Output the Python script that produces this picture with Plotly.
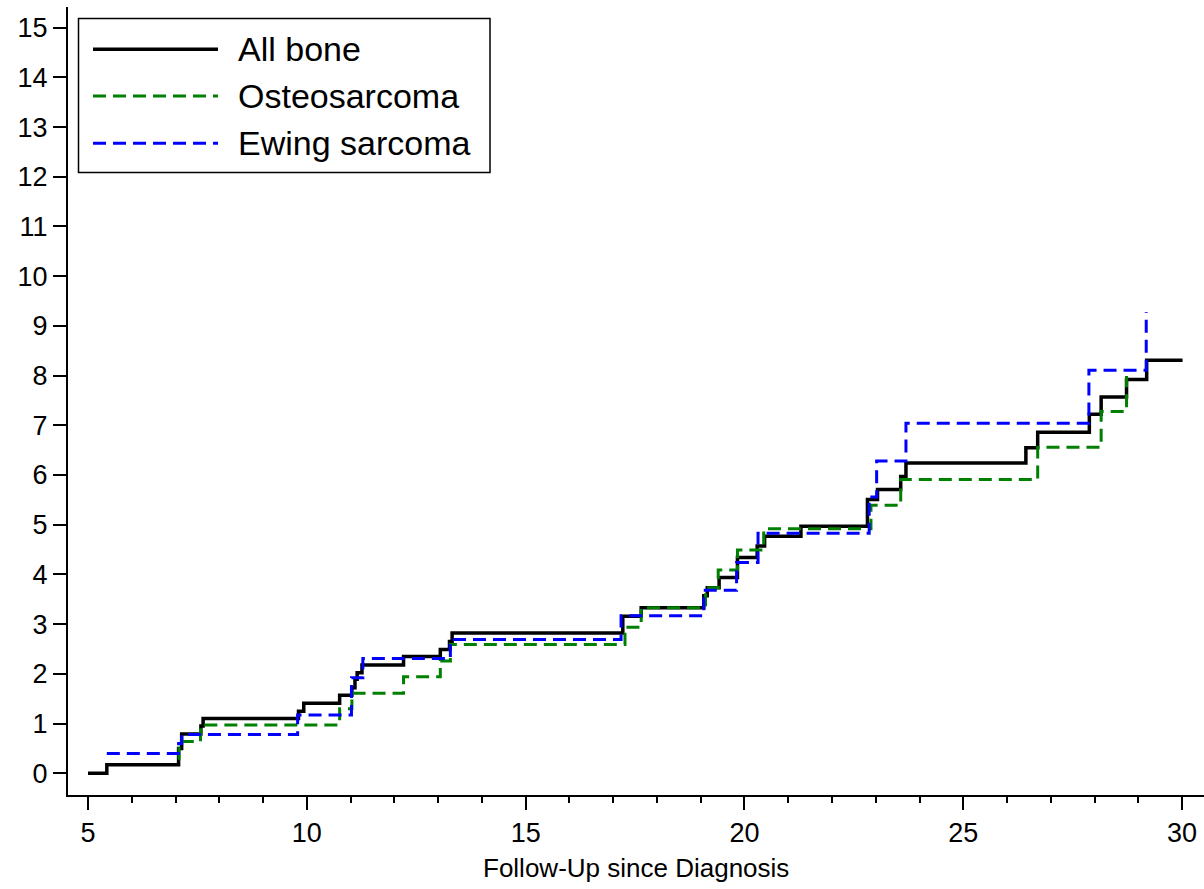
import plotly.graph_objects as go

# ---- data (time since diagnosis, cumulative incidence) ----
all_bone_x = [5.00, 5.43, 7.07, 7.14, 7.58, 7.63, 9.81, 9.93, 10.75, 11.03, 11.10, 11.15, 11.26,
              12.21, 13.05, 13.26, 13.32, 17.22, 17.64, 19.07, 19.15, 19.42, 19.84, 20.29, 20.46,
              21.29, 22.81, 23.04, 23.57, 23.69, 26.43, 26.70, 27.88, 28.15, 28.73, 29.19, 30.01]
all_bone_y = [0.00, 0.17, 0.50, 0.79, 0.95, 1.10, 1.25, 1.41, 1.57, 1.72, 1.89, 2.02, 2.18,
              2.35, 2.49, 2.65, 2.82, 3.16, 3.33, 3.57, 3.73, 3.94, 4.34, 4.57, 4.77,
              4.97, 5.51, 5.71, 5.97, 6.24, 6.55, 6.86, 7.22, 7.57, 7.92, 8.31, 8.31]

osteo_x = [7.06, 7.08, 7.57, 10.75, 11.03, 12.21, 13.05, 13.28, 17.27, 17.64, 19.11, 19.40,
           19.84, 20.44, 22.89, 23.57, 26.70, 28.15, 28.73]
osteo_y = [0.29, 0.64, 0.97, 1.30, 1.61, 1.94, 2.26, 2.59, 2.94, 3.33, 3.73, 4.09,
           4.49, 4.92, 5.39, 5.91, 6.56, 7.28, 7.99]

ewing_x = [5.43, 7.07, 7.14, 9.79, 11.02, 11.28, 13.28, 17.18, 19.07, 19.82, 20.31, 22.85,
           23.02, 23.69, 27.87, 29.18]
ewing_y = [0.40, 0.60, 0.78, 1.17, 1.92, 2.31, 2.69, 3.17, 3.68, 4.24, 4.83, 5.56,
           6.28, 7.04, 8.11, 9.28]

series_names = ["All bone", "Osteosarcoma", "Ewing sarcoma"]
series_colors = ["#000000", "#008000", "#0000FF"]
series_dash = ["solid", "13px,7px", "13px,7px"]
series_width = [3.5, 3, 3]

x_title = "Follow-Up since Diagnosis"

FONT = "Liberation Sans, Arial, sans-serif"

W, H = 1204, 889
ML, MR, MT, MB = 68, 0, 7, 94
PW, PH = W - ML - MR, H - MT - MB


def px_x(px):
    return (px - ML) / PW


def px_y(py):
    return (H - MB - py) / PH


fig = go.Figure()
xs = [all_bone_x, osteo_x, ewing_x]
ys = [all_bone_y, osteo_y, ewing_y]
for i in range(3):
    fig.add_trace(go.Scatter(
        x=xs[i], y=ys[i], mode="lines", name=series_names[i],
        line=dict(shape="hv", color=series_colors[i], dash=series_dash[i], width=series_width[i]),
        showlegend=False,
    ))

# ---- manual legend (long line samples) ----
shapes = [dict(type="rect", xref="paper", yref="paper",
               x0=px_x(78.5), x1=px_x(490), y0=px_y(172.5), y1=px_y(18.5),
               line=dict(color="black", width=1.5), fillcolor="white", layer="above")]
annotations = []
leg_y = [49.3, 96.0, 143.3]
for i in range(3):
    shapes.append(dict(type="line", xref="paper", yref="paper",
                       x0=px_x(93), x1=px_x(218), y0=px_y(leg_y[i]), y1=px_y(leg_y[i]),
                       line=dict(color=series_colors[i], dash=series_dash[i], width=series_width[i]),
                       layer="above"))
    annotations.append(dict(xref="paper", yref="paper", x=px_x(236), y=px_y(leg_y[i]),
                            text=series_names[i], showarrow=False, xanchor="left", yanchor="middle",
                            font=dict(family=FONT, size=34, color="black")))

# x-axis title as annotation for exact placement
annotations.append(dict(xref="paper", yref="paper", x=px_x(636), y=px_y(868),
                        text=x_title, showarrow=False, xanchor="center", yanchor="middle",
                        font=dict(family=FONT, size=26, color="black")))

fig.update_layout(
    width=W, height=H,
    margin=dict(l=ML, r=MR, t=MT, b=MB, pad=0),
    paper_bgcolor="white", plot_bgcolor="white",
    font=dict(family=FONT, size=27, color="black"),
    shapes=shapes, annotations=annotations,
    showlegend=False,
)
fig.update_xaxes(
    range=[4.543, 30.5], tickmode="linear", tick0=0, dtick=5,
    showgrid=False, zeroline=False,
    showline=True, linecolor="black", linewidth=2,
    ticks="outside", ticklen=13, tickwidth=2, tickcolor="black",
    tickfont=dict(family=FONT, size=27, color="black"),
    minor=dict(dtick=1, tick0=0, ticks="outside", ticklen=6, tickwidth=2, tickcolor="black", showgrid=False),
)
fig.update_yaxes(
    range=[-0.437, 15.415], tickmode="linear", tick0=0, dtick=1,
    showgrid=False, zeroline=False,
    showline=True, linecolor="black", linewidth=2,
    ticks="outside", ticklen=13, tickwidth=2, tickcolor="black",
    tickfont=dict(family=FONT, size=27, color="black"),
)

fig.write_html("out.html")
